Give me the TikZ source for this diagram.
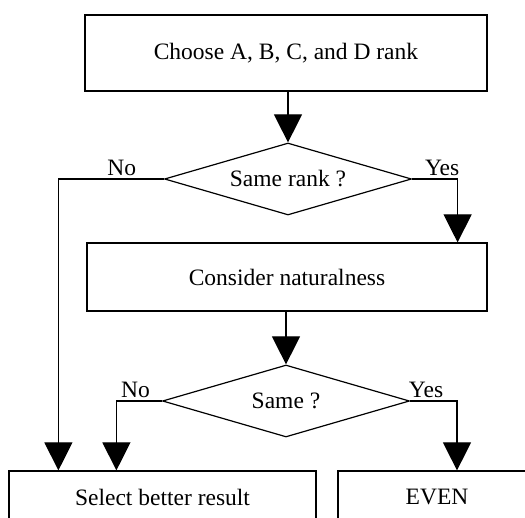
\documentclass[tikz,border=0pt]{standalone}
\usepackage{fontspec}
\setmainfont{Liberation Serif}
\usetikzlibrary{arrows.meta,shapes.geometric}
\begin{document}
\begin{tikzpicture}[x=1pt,y=-1pt,line width=1.2pt,
  every node/.style={font=\fontsize{23.5}{28}\selectfont},
  box/.style={draw,rectangle,inner sep=0pt},
  dec/.style={draw,diamond,aspect=3.43,inner sep=0pt,minimum width=247pt,minimum height=72pt},
  arr/.style={-{Triangle[width=28pt,length=28pt]}},
  lbl/.style={anchor=south,inner sep=3pt}]
\useasboundingbox (0,0) rectangle (525,518);
\clip (0,0) rectangle (525,518);
\node[box,minimum width=402pt,minimum height=76pt] (b1) at (286,53) {Choose A, B, C, and D rank};
\node[dec] (d1) at (288,179) {Same rank ?};
\node[box,minimum width=400pt,minimum height=68pt] (b2) at (287,277) {Consider naturalness};
\node[dec] (d2) at (286,401) {Same ?};
\node[box,minimum width=307pt,minimum height=52pt] (b3) at (162.5,497) {Select better result};
\node[box,minimum width=198pt,minimum height=52pt] (b4) at (437,497) {EVEN};
\draw[arr] (b1.south -| d1.north) -- (d1.north);
\draw[arr] (d1.west) -| node[lbl,pos=0.2]{No} ([xshift=50pt]b3.north west);
\draw[arr] (d1.east) -| node[lbl,pos=0.33]{Yes} ([xshift=-30pt]b2.north east);
\draw[arr] (b2.south -| d2.north) -- (d2.north);
\draw[arr] (d2.west) -| node[lbl,pos=0.29]{No} ([xshift=108pt]b3.north west);
\draw[arr] (d2.east) -| node[lbl,pos=0.17]{Yes} ([xshift=20pt]b4.north);
\end{tikzpicture}
\end{document}
